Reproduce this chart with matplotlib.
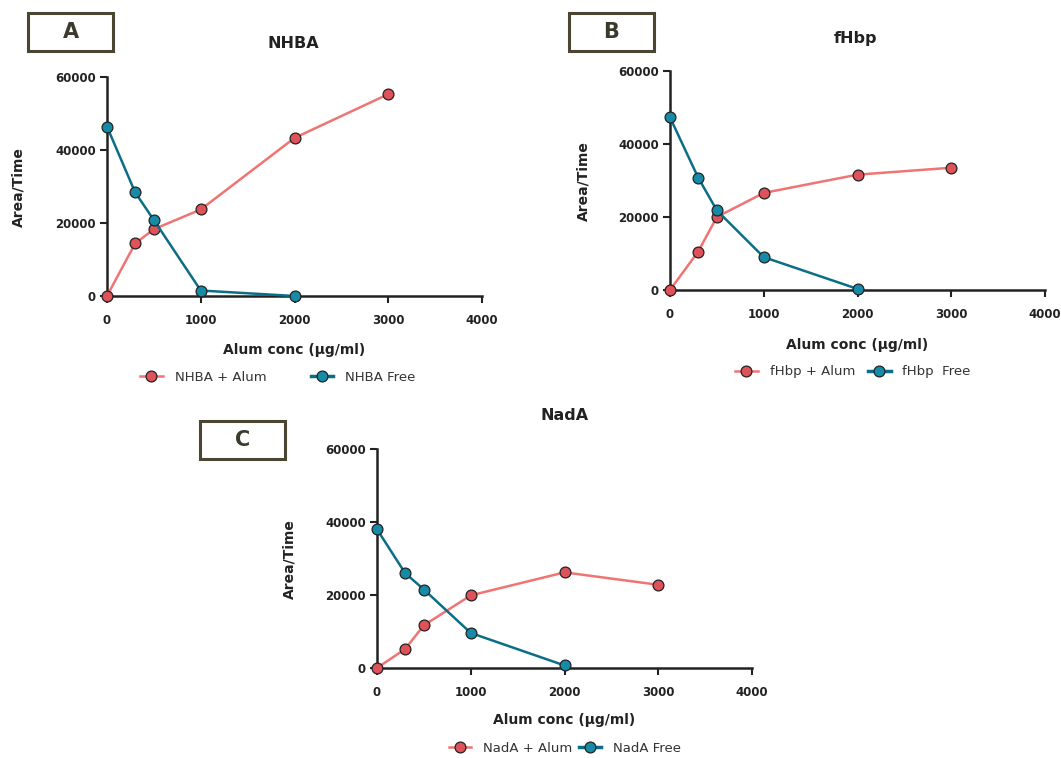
import matplotlib.pyplot as plt
from matplotlib.patches import Rectangle
from matplotlib.lines import Line2D

plt.rcParams['font.family'] = ['DejaVu Sans']

# Data
conc = [0, 300, 500, 1000, 2000, 3000]
conc_free = [0, 300, 500, 1000, 2000]

nhba_alum = [0, 14400, 18300, 23700, 43300, 55300]
nhba_free = [46400, 28400, 20800, 1500, 0]

fhbp_alum = [0, 10500, 20000, 26600, 31600, 33500]
fhbp_free = [47300, 30800, 21800, 9000, 300]

nada_alum = [0, 5200, 11700, 19900, 26200, 22800]
nada_free = [38000, 26000, 21500, 9600, 700]

xticks = [0, 1000, 2000, 3000, 4000]
yticks = [0, 20000, 40000, 60000]

RED_LINE = '#f07474'
RED_FACE = '#e0525a'
BLUE_LINE = '#0b6e86'
BLUE_FACE = '#168ba8'
BOX_COL = '#4a4632'
MS = 7.8

W, H = 1061, 758
fig = plt.figure(figsize=(W / 100, H / 100), dpi=100)


def fx(x):
    return x / W


def fy(y):
    return 1 - y / H


def panel(left, top, name, alum, free, labels, letter, box, title_xy, xlab_y, ylab_x,
          leg_y, leg_x, colsp):
    ax = fig.add_axes([fx(left), fy(top + 219), 375 / W, 219 / H])
    ax.plot(conc, alum, '-o', color=RED_LINE, lw=1.8, ms=MS,
            mfc=RED_FACE, mec='#222222', mew=0.9, clip_on=False, zorder=3)
    ax.plot(conc_free, free, '-o', color=BLUE_LINE, lw=1.8, ms=MS,
            mfc=BLUE_FACE, mec='#222222', mew=0.9, clip_on=False, zorder=4)
    ax.set_xlim(0, 4000)
    ax.set_ylim(0, 60000)
    ax.set_xticks(xticks)
    ax.set_yticks(yticks)
    for s in ['top', 'right']:
        ax.spines[s].set_visible(False)
    for s in ['left', 'bottom']:
        ax.spines[s].set_linewidth(1.8)
        ax.spines[s].set_color('#222222')
    ax.tick_params(width=1.5, length=5, labelsize=8.5, colors='#222222', pad=3)
    for lab in ax.get_xticklabels() + ax.get_yticklabels():
        lab.set_fontweight('bold')
    ax.tick_params(axis='x', pad=8)

    fig.text(fx(title_xy[0]), fy(title_xy[1]), name, ha='center', va='center',
             fontsize=11.5, fontweight='bold', color='#222222')
    fig.text(fx(left + 187), fy(xlab_y), 'Alum conc (µg/ml)', ha='center', va='center',
             fontsize=10, fontweight='bold', color='#222222')
    fig.text(fx(ylab_x), fy(top + 110), 'Area/Time', ha='center', va='center',
             rotation=90, fontsize=10, fontweight='bold', color='#222222')

    # panel letter box
    bx, by = box
    fig.add_artist(Rectangle((fx(bx), fy(by + 38)), 85 / W, 38 / H,
                             transform=fig.transFigure, fill=False,
                             edgecolor=BOX_COL, lw=2.2))
    fig.text(fx(bx + 42.5), fy(by + 19), letter, ha='center', va='center',
             fontsize=15, fontweight='bold', color='#3b3a2c')

    handles = [
        Line2D([], [], color=RED_LINE, lw=1.8, marker='o', ms=MS,
               mfc=RED_FACE, mec='#222222', mew=0.9),
        Line2D([], [], color=BLUE_LINE, lw=2.5, marker='o', ms=MS,
               mfc=BLUE_FACE, mec='#222222', mew=0.9),
    ]
    fig.legend(handles, labels, loc='center',
               bbox_to_anchor=(fx(leg_x), fy(leg_y)), ncol=2, frameon=False,
               fontsize=9.5, handlelength=1.7, columnspacing=colsp, handletextpad=0.9,
               labelcolor='#333333')
    return ax


panel(107, 77, 'NHBA', nhba_alum, nhba_free, ['NHBA + Alum', 'NHBA Free'], 'A',
      (28, 13), (293, 44), 350, 18, 377, 278, 3.4)
panel(670, 71, 'fHbp', fhbp_alum, fhbp_free, ['fHbp + Alum', 'fHbp  Free'], 'B',
      (569, 13), (856, 38), 345, 583, 372, 853, 1.0)
panel(377, 449, 'NadA', nada_alum, nada_free, ['NadA + Alum', 'NadA Free'], 'C',
      (200, 421), (565, 415), 720, 289, 748, 565, 0.5)

fig.savefig('out.png', dpi=100)
